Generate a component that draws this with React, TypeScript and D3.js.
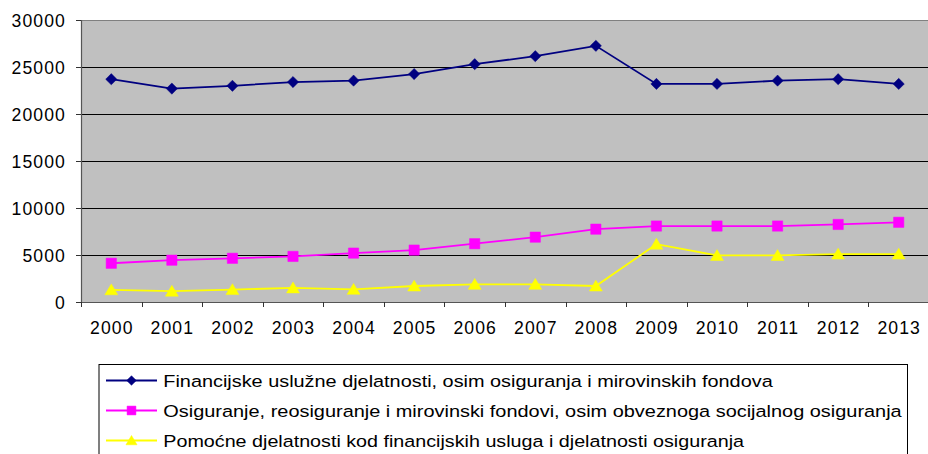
import React from "react";
import * as d3 from "d3";

const years = ["2000","2001","2002","2003","2004","2005","2006","2007","2008","2009","2010","2011","2012","2013"];
const financijske = [23700, 22700, 23000, 23400, 23550, 24250, 25300, 26150, 27250, 23200, 23200, 23550, 23700, 23200];
const osiguranje = [4120, 4450, 4650, 4850, 5200, 5520, 6200, 6900, 7750, 8080, 8080, 8080, 8250, 8480];
const pomocne = [1300, 1150, 1320, 1500, 1350, 1700, 1880, 1880, 1700, 6150, 4950, 4950, 5100, 5100];
const yTicks = [0, 5000, 10000, 15000, 20000, 25000, 30000];
const seriesNames = [
  "Financijske uslužne djelatnosti, osim osiguranja i mirovinskih fondova",
  "Osiguranje, reosiguranje i mirovinski fondovi, osim obveznoga socijalnog osiguranja",
  "Pomoćne djelatnosti kod financijskih usluga i djelatnosti osiguranja",
];

const W = 928, H = 454;
const plot = { left: 81, top: 20, right: 929, bottom: 302 };
const FONT = "'Liberation Sans', Arial, sans-serif";

const series = [
  { name: seriesNames[0], values: financijske, color: "#000080", marker: "diamond" },
  { name: seriesNames[1], values: osiguranje, color: "#FF00FF", marker: "square" },
  { name: seriesNames[2], values: pomocne, color: "#FFFF00", marker: "triangle" },
];
const legendTextEnds = [772.7, 901.7, 744];

function markerPath(type: string, cx: number, cy: number, s: number) {
  if (type === "diamond") {
    return `M${cx},${cy - s} L${cx + s},${cy} L${cx},${cy + s} L${cx - s},${cy} Z`;
  }
  if (type === "square") {
    const h = s * 0.92;
    return `M${cx - h},${cy - h} H${cx + h} V${cy + h} H${cx - h} Z`;
  }
  const h = s * 1.05;
  return `M${cx},${cy - h} L${cx + h * 1.1},${cy + h * 0.85} L${cx - h * 1.1},${cy + h * 0.85} Z`;
}

export default function App() {
  const x = d3.scaleBand<string>().domain(years).range([plot.left, plot.right]).padding(0);
  const y = d3.scaleLinear().domain([0, 30000]).range([plot.bottom, plot.top]);
  const cx = (yr: string) => (x(yr) as number) + x.bandwidth() / 2;
  const line = d3.line<number>().x((_, i) => cx(years[i])).y((v) => y(v));

  const legendLeft = 99, legendTop = 364.5, legendRight = 907.5;
  const rowY = [380.5, 410.5, 440.5];

  return (
    <svg width={W} height={H} style={{ position: "absolute", left: 0, top: 0, background: "#fff" }} fontFamily={FONT}>
      <rect x={plot.left} y={plot.top} width={plot.right - plot.left} height={plot.bottom - plot.top} fill="#C0C0C0" />
      {yTicks.filter((t) => t > 0).map((t) => (
        <line key={t} x1={plot.left} x2={plot.right} y1={Math.round(y(t)) + 0.5} y2={Math.round(y(t)) + 0.5}
          stroke={t === 30000 ? "#808080" : "#000"} strokeWidth={1} />
      ))}
      <line x1={plot.left + 0.5} x2={plot.left + 0.5} y1={plot.top} y2={plot.bottom} stroke="#555" strokeWidth={1.2} />
      <line x1={plot.left} x2={plot.right} y1={plot.bottom + 0.5} y2={plot.bottom + 0.5} stroke="#555" strokeWidth={1.2} />
      {yTicks.map((t) => (
        <g key={t}>
          <line x1={plot.left - 5} x2={plot.left} y1={Math.round(y(t)) + 0.5} y2={Math.round(y(t)) + 0.5} stroke="#333" />
          <text x={66} y={y(t) + 6.5} textAnchor="end" fontSize={17.6} letterSpacing={1.1} fill="#000">{t}</text>
        </g>
      ))}
      {years.map((yr) => (
        <line key={"t" + yr} x1={Math.round(x(yr) as number) + 0.5} x2={Math.round(x(yr) as number) + 0.5}
          y1={plot.bottom} y2={plot.bottom + 5} stroke="#333" />
      ))}
      {years.map((yr) => (
        <text key={yr} x={cx(yr) + 0.5} y={334} textAnchor="middle" fontSize={17.6} letterSpacing={1.1} fill="#000">{yr}</text>
      ))}
      {series.map((s) => (
        <g key={s.name}>
          <path d={line(s.values) || ""} fill="none" stroke={s.color} strokeWidth={1.8} />
          {s.values.map((v, i) => (
            <path key={i} d={markerPath(s.marker, cx(years[i]), y(v), 5.6)} fill={s.color} stroke={s.color} strokeWidth={0.5} />
          ))}
        </g>
      ))}
      <rect x={legendLeft} y={legendTop} width={legendRight - legendLeft} height={H + 10 - legendTop} fill="#fff" stroke="#000" strokeWidth={1} />
      {series.map((s, i) => (
        <g key={"l" + i}>
          <line x1={106} x2={157} y1={rowY[i]} y2={rowY[i]} stroke={s.color} strokeWidth={1.8} />
          <path d={markerPath(s.marker, 131.5, rowY[i], 4.8)} fill={s.color} stroke={s.color} strokeWidth={0.5} />
          <text x={163.3} y={rowY[i] + 6} fontSize={17.4} fill="#000" textLength={legendTextEnds[i] - 163.3} lengthAdjust="spacingAndGlyphs">{s.name}</text>
        </g>
      ))}
    </svg>
  );
}
